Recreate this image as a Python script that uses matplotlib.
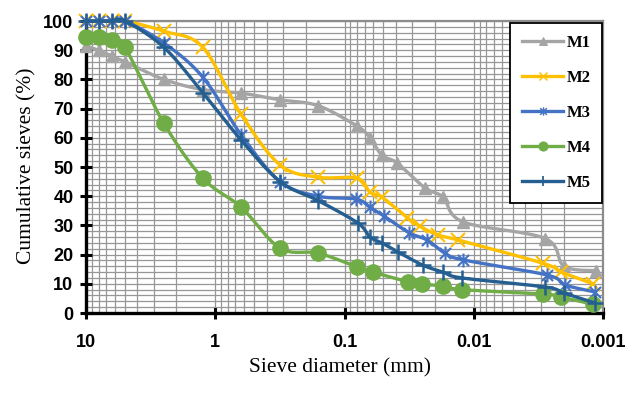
import numpy as np
import matplotlib
matplotlib.use("Agg")
import matplotlib.pyplot as plt
from matplotlib.path import Path
from matplotlib.ticker import FixedLocator, MultipleLocator, NullFormatter, FuncFormatter

# ---------------- data ----------------
sieve = [10, 8, 6.3, 5, 2.5, 1.25, 0.63, 0.315, 0.16]

m1_x = sieve + [0.080, 0.0635, 0.0513, 0.0393, 0.0238, 0.0173, 0.0121, 0.0028, 0.0020, 0.00113]
m1_y = [91.5, 90, 88, 86, 80, 76.5, 75.3, 73, 71, 64, 60, 54, 51.4, 42.8, 39.7, 31.2, 25.5, 16, 14.5]

m2_x = sieve + [0.080, 0.0635, 0.0513, 0.0328, 0.0261, 0.0189, 0.0132, 0.0029, 0.0021, 0.00119]
m2_y = [100, 100, 100, 100, 96.5, 91, 68, 50.7, 46.5, 46.2, 41.4, 39.7, 32.7, 29.7, 26.7, 25, 17, 14, 10]

m3_x = sieve + [0.081, 0.0635, 0.0495, 0.0317, 0.023, 0.0167, 0.0121, 0.0027, 0.00197, 0.00115]
m3_y = [100, 100, 100, 100, 92.5, 80.8, 61, 45, 40, 39, 36.2, 33.2, 27.5, 25, 20.5, 18.2, 13, 9.6, 7.2]

m4_x = sieve + [0.080, 0.0602, 0.0323, 0.0251, 0.0173, 0.0123, 0.0029, 0.0021, 0.00119]
m4_y = [94.5, 94.5, 93.5, 91, 65, 46.2, 36.2, 22.2, 20.5, 15.8, 14, 10.7, 9.9, 9.3, 8, 6.5, 5.4, 3]

m5_x = sieve + [0.0788, 0.0635, 0.0513, 0.0386, 0.0249, 0.0173, 0.0123, 0.0028, 0.0020, 0.00115]
m5_y = [100, 100, 100, 100, 91, 75.5, 59.2, 45, 38.5, 30.8, 26, 24, 20.9, 16.4, 14, 12, 8.9, 6.8, 3.4]

names = ["M1", "M2", "M3", "M4", "M5"]
colors = ["#A5A5A5", "#FFC000", "#4472C4", "#70AD47", "#255E91"]

x_ticks = [10, 1, 0.1, 0.01, 0.001]
x_tick_labels = ["10", "1", "0.1", "0.01", "0.001"]
y_ticks = list(range(0, 101, 10))


def smooth(xs, ys, n=30):
    u = np.log10(np.asarray(xs, float))
    v = np.asarray(ys, float)
    P = np.column_stack([u, v])
    out = [P[0]]
    m = len(P)
    t = np.linspace(0, 1, n)[1:]
    for i in range(m - 1):
        p0 = P[i - 1] if i > 0 else P[i]
        p1 = P[i]
        p2 = P[i + 1]
        p3 = P[i + 2] if i + 2 < m else P[i + 1]
        c1 = p1 + (p2 - p0) / 6.0
        c2 = p2 - (p3 - p1) / 6.0
        tt = t[:, None]
        seg = ((1 - tt) ** 3) * p1 + 3 * ((1 - tt) ** 2) * tt * c1 + 3 * (1 - tt) * tt ** 2 * c2 + tt ** 3 * p2
        out.extend(seg)
    out = np.array(out)
    return 10 ** out[:, 0], out[:, 1]


asterisk = Path(
    [(-1, -1), (1, 1), (-1, 1), (1, -1), (0, -1.25), (0, 1.25)],
    [Path.MOVETO, Path.LINETO, Path.MOVETO, Path.LINETO, Path.MOVETO, Path.LINETO],
)

markers = ["^", "x", asterisk, "o", "+"]
msizes = [9, 10, 10, 11, 11]
mews = [1, 1.5, 1.5, 1, 1.8]

serif = ["Liberation Serif", "DejaVu Serif"]
sans = ["Liberation Sans", "DejaVu Sans"]

fig = plt.figure(figsize=(6.38, 3.94), dpi=100)
ax = fig.add_axes([86 / 638, 1 - 313 / 394, (603 - 86) / 638, (313 - 21) / 394])

data = [(m1_x, m1_y), (m2_x, m2_y), (m3_x, m3_y), (m4_x, m4_y), (m5_x, m5_y)]
handles = []
for k, ((xs, ys), name, c, mk, ms, mew) in enumerate(zip(data, names, colors, markers, msizes, mews)):
    sx, sy = smooth(xs, ys)
    ax.plot(sx, sy, color=c, lw=2.4, solid_capstyle="round", zorder=3 + k * 0.1, clip_on=False)
    ax.plot(xs, ys, linestyle="none", marker=mk, markersize=ms, markeredgewidth=mew,
            color=c, markeredgecolor=c, markerfacecolor=c, zorder=3.05 + k * 0.1, clip_on=False)
    h, = ax.plot([], [], color=c, lw=2.4, marker=mk, markersize=ms, markeredgewidth=mew * 0.7,
                 markerfacecolor=c, markeredgecolor=c, label=name)
    handles.append(h)

ax.set_xscale("log")
ax.set_xlim(10, 0.001)
ax.set_ylim(0, 100)

ax.xaxis.set_major_locator(FixedLocator(x_ticks))
ax.xaxis.set_major_formatter(FuncFormatter(lambda v, p: x_tick_labels[x_ticks.index(min(x_ticks, key=lambda t: abs(np.log10(t) - np.log10(v))))]))
minor_x = [m * 10.0 ** e for e in range(-3, 1) for m in range(2, 10)]
ax.xaxis.set_minor_locator(FixedLocator(minor_x))
ax.xaxis.set_minor_formatter(NullFormatter())
ax.yaxis.set_major_locator(FixedLocator(y_ticks))
ax.yaxis.set_minor_locator(MultipleLocator(2))

ax.grid(which="both", color="#979797", lw=0.9, zorder=0)
ax.set_axisbelow(True)

for s in ["left", "bottom"]:
    ax.spines[s].set_color("black")
    ax.spines[s].set_linewidth(2.4)
    ax.spines[s].set_zorder(2.5)
for s in ["top", "right"]:
    ax.spines[s].set_color("#8c8c8c")
    ax.spines[s].set_linewidth(1.6)

ax.tick_params(which="major", direction="inout", length=8, width=2.2, color="black")
ax.tick_params(which="minor", length=0)
ax.tick_params(axis="x", which="major", pad=11)
ax.tick_params(axis="y", which="major", pad=5)
for lab in ax.get_xticklabels() + ax.get_yticklabels():
    lab.set_fontfamily(sans)
    lab.set_fontweight("bold")
    lab.set_fontsize(13)

fig.text(340 / 638, 1 - 368 / 394, "Sieve diameter (mm)", ha="center", va="center",
         fontsize=15.5, family=serif)
fig.text(27 / 638, 1 - 166 / 394, "Cumulative sieves (%)", ha="center", va="center",
         rotation=90, fontsize=15.5, family=serif)

leg = fig.legend(handles=handles, loc="upper left", bbox_to_anchor=(510 / 638, 1 - 23 / 394),
                 frameon=True, fancybox=False, edgecolor="black", framealpha=1,
                 prop={"family": serif, "weight": "bold", "size": 12},
                 markerscale=0.6, handlelength=2.5, handletextpad=0.2,
                 labelspacing=1.15, borderpad=0.7, borderaxespad=0)
leg.get_frame().set_linewidth(1.3)
leg.set_zorder(10)

fig.savefig("out.png", dpi=100)
